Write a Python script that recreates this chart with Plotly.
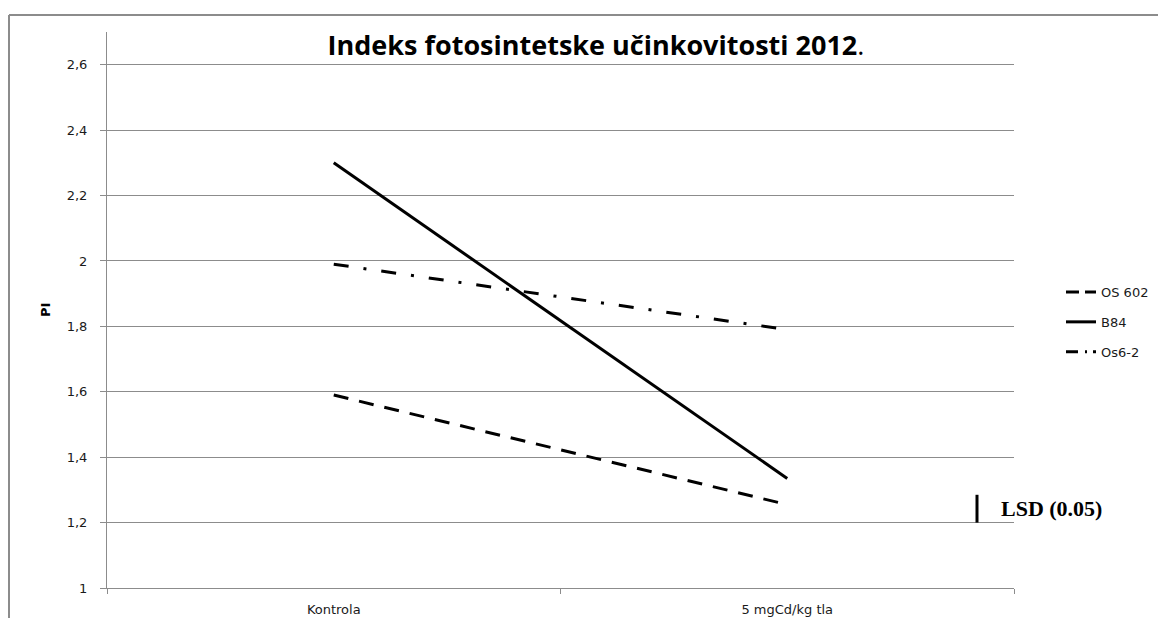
import plotly.graph_objects as go

categories = ["Kontrola", "5 mgCd/kg tla"]
os602 = [1.59, 1.255]
b84 = [2.30, 1.335]
os62 = [1.99, 1.79]
series_names = ["OS 602", "B84", "Os6-2"]
y_ticks = [1.0, 1.2, 1.4, 1.6, 1.8, 2.0, 2.2, 2.4, 2.6]
y_tick_labels = ["1", "1,2", "1,4", "1,6", "1,8", "2", "2,2", "2,4", "2,6"]
lsd_base = 1.2
lsd_value = 0.085

OFF = 8  # page body margin
W, H = 1166 - 2 * OFF, 626 - 2 * OFF
L = 107 - OFF
T = 32 - OFF
B = H - (588 - OFF)
R = W - (1014 - OFF)
pw = W - L - R
ph = H - T - B

def px_x(p):  # screen px -> paper
    return (p - OFF - L) / pw

def px_y(p):
    return (H - B - (p - OFF)) / ph

fig = go.Figure()
plot_dash = ["15px,11px", "solid", "15px,15px,3px,15px"]
legend_dash = ["13px,6px", "solid", "12px,7px,2px,6px"]
for name, vals, d in zip(series_names, [os602, b84, os62], plot_dash):
    fig.add_trace(go.Scatter(
        x=categories, y=vals, name=name, mode="lines",
        line=dict(color="black", width=3, dash=d),
        showlegend=False,
    ))
# legend entries (styled like the reference's legend keys)
for name, d in zip(series_names, legend_dash):
    fig.add_trace(go.Scatter(
        x=[None], y=[None], name=name, mode="lines",
        line=dict(color="black", width=3, dash=d),
        legendgroup=name, showlegend=True,
    ))

tick_font = dict(family="DejaVu Sans", size=13, color="#1a1a1a")

fig.update_layout(
    width=W, height=H,
    margin=dict(l=L, r=R, t=T, b=B, autoexpand=False),
    paper_bgcolor="white", plot_bgcolor="white",
    font=tick_font,
    title=dict(
        text="<b>Indeks fotosintetske učinkovitosti 2012</b>.",
        font=dict(family="Open Sans", size=27, color="black"),
        x=(596 - OFF) / W, xanchor="center",
        y=1 - (46 - OFF) / H, yanchor="middle", yref="container",
    ),
    showlegend=True,
    legend=dict(
        x=px_x(1061), y=px_y(277), xanchor="left", yanchor="top",
        font=dict(family="DejaVu Sans", size=13, color="#1a1a1a"),
        traceorder="grouped", tracegroupgap=10,
        bgcolor="rgba(0,0,0,0)",
    ),
    xaxis=dict(
        type="category", range=[-0.5, 1.5],
        showgrid=False, showline=True, linecolor="#8c8c8c", linewidth=1,
        ticks="outside", tickson="boundaries", ticklen=5, tickcolor="#8c8c8c",
        tickfont=tick_font, ticklabelstandoff=9,
        zeroline=False,
    ),
    yaxis=dict(
        range=[1.0, 2.7],
        tickvals=y_ticks, ticktext=y_tick_labels,
        showgrid=True, gridcolor="#8c8c8c", gridwidth=1,
        showline=True, linecolor="#8c8c8c", linewidth=1,
        ticks="outside", ticklen=6, tickcolor="#8c8c8c",
        tickfont=tick_font, ticklabelstandoff=10,
        zeroline=False,
    ),
)

# y-axis title
fig.add_annotation(text="<b>PI</b>", xref="paper", yref="paper",
                   x=px_x(45), y=px_y(310), xanchor="center", yanchor="middle",
                   textangle=-90, showarrow=False,
                   font=dict(family="DejaVu Sans", size=13, color="black"))

# outer chart border (top and left edges visible in the reference)
fig.add_shape(type="line", xref="paper", yref="paper",
              x0=px_x(9), x1=px_x(1300), y0=px_y(15), y1=px_y(15),
              line=dict(color="#8c8c8c", width=2), layer="below")
fig.add_shape(type="line", xref="paper", yref="paper",
              x0=px_x(9), x1=px_x(9), y0=px_y(15), y1=px_y(700),
              line=dict(color="#8c8c8c", width=2), layer="below")

# LSD bar
fig.add_shape(type="line", xref="paper", yref="y",
              x0=px_x(977), x1=px_x(977), y0=lsd_base, y1=lsd_base + lsd_value,
              line=dict(color="black", width=3))
fig.add_annotation(text="<b>LSD (0.05)</b>", xref="paper", yref="paper",
                   x=px_x(999), y=px_y(508), xanchor="left", yanchor="middle",
                   showarrow=False,
                   font=dict(family="Liberation Serif", size=22, color="black"))

fig.write_html("out.html")
